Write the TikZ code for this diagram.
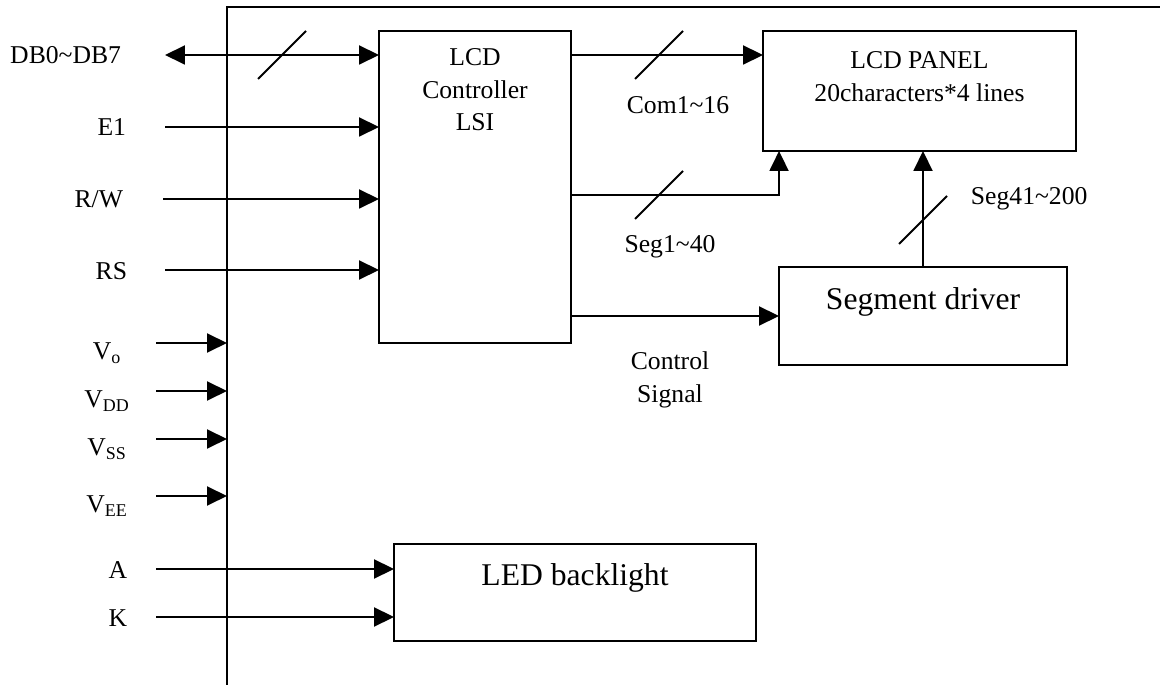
\documentclass[tikz,border=0pt]{standalone}
\usepackage{fontspec}
\setmainfont{Liberation Serif}
\usetikzlibrary{positioning, arrows.meta}

\begin{document}
\begin{tikzpicture}[
        x=0.02cm, y=-0.02cm,
        line width=1.1pt,
        font=\fontsize{14.6}{18.5}\selectfont,
        >={Triangle[length=0.4cm, width=0.38cm]},
        blk/.style={
            draw, rectangle, inner sep=0pt, outer sep=0pt
        },
        btxt/.style={align=center, inner sep=0pt, below=0.38cm},
        bigtxt/.style={btxt, font=\fontsize{18}{22}\selectfont},
        inlbl/.style={anchor=east, inner sep=0pt},
        wlbl/.style={align=center, inner sep=0pt}
    ]

    \useasboundingbox (0,0) rectangle (1160,685);

    % outer frame
    \coordinate (frame) at (227,7);
    \draw (227,685) -- (frame) -- (1160,7);

    \node[blk, minimum width=3.84cm, minimum height=6.24cm]
        (ctl) at (475,187) {};
    \node[btxt, below=0.34cm] (ctltxt) at (ctl.north)
        {LCD\\Controller\\LSI};

    \node[blk, minimum width=6.26cm, minimum height=2.4cm]
        (panel) at (919.5,91) {};
    \node[btxt, below=0.40cm] (paneltxt) at (panel.north)
        {LCD PANEL\\20characters*4 lines};

    \node[blk, minimum width=5.76cm, minimum height=1.96cm]
        (drv) at (923,316) {};
    \node[bigtxt, below=0.40cm] (drvtxt) at (drv.north)
        {Segment driver};

    \node[blk, minimum width=7.24cm, minimum height=1.94cm]
        (led) at (575,592.5) {};
    \node[bigtxt] (ledtxt) at (led.north)
        {LED backlight};

    % inputs on the left
    \coordinate (dbin) at (165,55);
    \coordinate (e1in) at (165,127);
    \coordinate (rwin) at (163,199);
    \coordinate (rsin) at (165,270);
    \coordinate (voin) at (156,343);
    \coordinate (vddin) at (156,391);
    \coordinate (vssin) at (156,439);
    \coordinate (veein) at (156,496);
    \coordinate (ain) at (156,569);
    \coordinate (kin) at (156,617);

    \node[inlbl] (db) at (122,55) {DB0\textasciitilde DB7};
    \node[inlbl] (e1) at (127,127) {E1};
    \node[inlbl] (rw) at (124,199) {R/W};
    \node[inlbl] (rs) at (128,271) {RS};
    \node[inlbl, anchor=center] (vo) at (107,353) {V\textsubscript{o}};
    \node[inlbl, anchor=center] (vdd) at (107,401) {V\textsubscript{DD}};
    \node[inlbl, anchor=center] (vss) at (107,449) {V\textsubscript{SS}};
    \node[inlbl, anchor=center] (vee) at (107,506) {V\textsubscript{EE}};
    \node[inlbl] (a) at (128,570) {A};
    \node[inlbl] (k) at (128,618) {K};

    \draw[<->] (dbin) -- (dbin -| ctl.west);
    \draw[->] (e1in) -- (e1in -| ctl.west);
    \draw[->] (rwin) -- (rwin -| ctl.west);
    \draw[->] (rsin) -- (rsin -| ctl.west);
    \draw[->] (voin) -- (voin -| frame);
    \draw[->] (vddin) -- (vddin -| frame);
    \draw[->] (vssin) -- (vssin -| frame);
    \draw[->] (veein) -- (veein -| frame);
    \draw[->] (ain) -- (ain -| led.west);
    \draw[->] (kin) -- (kin -| led.west);

    % controller outputs
    \coordinate (dbbus) at (282,55);
    \coordinate (combus) at (659,55);
    \coordinate (segbus) at (659,195);
    \coordinate (drvbus) at (923,220);

    \draw[->] (combus -| ctl.east) -- (combus -| panel.west);
    \draw[->] (segbus -| ctl.east) -| ([xshift=0.32cm]panel.south west);
    \draw[->] (drv.north) -- (drv.north |- panel.south);
    \draw[->] (drv.west -| ctl.east) -- (drv.west);

    \foreach \b in {dbbus, combus, segbus, drvbus}
        \draw ([shift={(-24,24)}]\b) -- ++(48,-48);

    \node[wlbl] (comlbl) at (678,105) {Com1\textasciitilde 16};
    \node[wlbl] (seglbl) at (670,247) {Seg1\textasciitilde 40};
    \node[wlbl, anchor=west] (drvlbl) at (970,199) {Seg41\textasciitilde 200};
    \node[wlbl] (ctllbl) at (670,380) {Control\\Signal};

\end{tikzpicture}
\end{document}
